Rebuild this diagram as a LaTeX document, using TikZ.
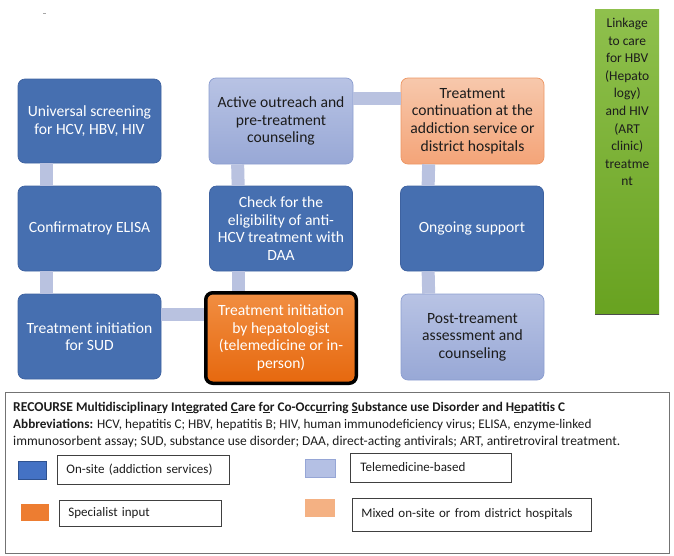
\documentclass[tikz,border=0pt]{standalone}
\usepackage{fontspec}
\setmainfont{Carlito}
\usetikzlibrary{calc}

\definecolor{dblue}{RGB}{70,111,176}
\definecolor{dblueb}{RGB}{62,98,160}
\definecolor{lavtop}{RGB}{184,195,228}
\definecolor{lavbot}{RGB}{152,168,214}
\definecolor{lavb}{RGB}{140,158,208}
\definecolor{ortop}{RGB}{241,142,66}
\definecolor{orbot}{RGB}{230,104,14}
\definecolor{pchtop}{RGB}{247,200,172}
\definecolor{pchbot}{RGB}{244,164,120}
\definecolor{pchb}{RGB}{236,150,100}
\definecolor{grtop}{RGB}{143,192,77}
\definecolor{grbot}{RGB}{104,162,32}
\definecolor{conncol}{RGB}{185,194,224}
\definecolor{txtdark}{RGB}{28,28,28}
\definecolor{legsq1}{RGB}{68,114,196}
\definecolor{legsq1b}{RGB}{47,82,143}
\definecolor{legsq2}{RGB}{237,125,49}
\definecolor{legsq3}{RGB}{180,192,228}
\definecolor{legsq3b}{RGB}{150,166,214}
\definecolor{legsq4}{RGB}{244,177,131}

\begin{document}
\begin{tikzpicture}[x=1pt,y=-1pt,
  box/.style={rounded corners=7pt, minimum width=143pt, minimum height=85pt,
    inner sep=1pt, align=center, font=\fontsize{15.6}{17.6}\selectfont},
  onsite/.style={box, fill=dblue, draw=dblueb, line width=0.7pt, text=white},
  telemed/.style={box, top color=lavtop, bottom color=lavbot, draw=lavb, line width=0.7pt, text=txtdark},
  mixed/.style={box, top color=pchtop, bottom color=pchbot, draw=pchb, line width=0.7pt, text=txtdark},
  special/.style={box, top color=ortop, bottom color=orbot, draw=black, line width=3.5pt, text=white,
    minimum width=150.5pt, minimum height=90.5pt},
  conn/.style={draw=conncol, line width=13pt},
  legtext/.style={font=\fontsize{13.2}{15}\selectfont, anchor=base west, inner sep=0pt, text=txtdark},
  legbox/.style={draw=black!75, line width=0.8pt, align=left, font=\fontsize{13}{15}\selectfont,
    inner ysep=0pt, text=txtdark},
  legsq/.style={inner sep=0pt, line width=0.8pt}
]
\useasboundingbox (0,0) rectangle (674,555);

% tiny mark
\draw[gray!70, line width=0.5pt] (43,13) -- (45.5,13);

% boxes
\node[onsite, minimum height=84pt] (u1) at (89.5,121) {Universal screening\\for HCV, HBV, HIV};
\node[telemed, minimum width=144pt, minimum height=86pt] (u2) at (281,121) {Active outreach and\\pre-treatment\\counseling};
\node[mixed, minimum height=86pt] (u3) at (472.5,121) {Treatment\\continuation at the\\addiction service or\\district hospitals};

\node[onsite] (c1) at (89.5,228.5) {Confirmatroy ELISA};
\node[onsite, minimum width=143pt] (c2) at (281,228.5) {Check for the\\eligibility of anti-\\HCV treatment with\\DAA};
\node[onsite] (c3) at (472,228.5) {Ongoing support};

\node[onsite] (s1) at (89.5,336.5) {Treatment initiation\\for SUD};
\node[special] (s2) at (281,338) {Treatment initiation\\by hepatologist\\(telemedicine or in-\\person)};
\node[telemed, minimum height=86pt] (s3) at (472.5,337) {Post-treament\\assessment and\\counseling};

% green box
\node[minimum width=64pt, minimum height=305pt, top color=grtop, bottom color=grbot,
  inner sep=0pt, anchor=north west] (g) at (595,9) {};
\draw[black!70, line width=1.2pt] (g.south west) -- (g.south east);
\node[align=center, text=txtdark, font=\fontsize{13.5}{17.6}\selectfont, anchor=north, inner sep=0pt]
  (gt) at ([yshift=-9pt]g.north) {Linkage\\to care\\for HBV\\(Hepato\\logy)\\and HIV\\(ART\\clinic)\\treatme\\nt};

% connectors
\draw[conn] ([xshift=29pt]u1.south west) -- ([xshift=29pt]c1.north west);
\draw[conn] ([xshift=29pt]c1.south west) -- ([xshift=29pt]s1.north west);
\draw[conn] ([xshift=29pt]u2.south west) -- ([xshift=29pt]c2.north west);
\draw[conn] ([xshift=29pt]c2.south west) -- ([xshift=29pt]c2.south west |- s2.north);
\draw[conn] ([xshift=28pt]u3.south west) -- ([xshift=28pt]c3.north west);
\draw[conn] ([xshift=28pt]c3.south west) -- ([xshift=28pt]s3.north west);
\draw[conn] ([yshift=-21pt]u2.north east) -- ([yshift=-21pt]u3.north west);
\draw[conn] ([yshift=-21pt]s1.north east) -- ([yshift=-21pt]s1.north east -| s2.west);

% legend frame
\node[draw=black!55, line width=0.9pt, minimum width=664pt, minimum height=161pt, anchor=north west, inner sep=0pt] (leg) at (5,392) {};

\node[legtext] (t1) at (13,411) {\textbf{\fontsize{13.6}{15}\selectfont RECOURSE} \textbf{\fontsize{13.2}{15}\selectfont Multidisciplina\underline{r}y Int\underline{e}grated \underline{C}are f\underline{o}r Co-Occ\underline{ur}ring \underline{S}ubstance use Disorder and H\underline{e}patitis C}};
\node[legtext] (t2) at (13,428) {\textbf{Abbreviations:} HCV, hepatitis C; HBV, hepatitis B; HIV, human immunodeficiency virus; ELISA, enzyme-linked};
\node[legtext, font=\fontsize{13.5}{15}\selectfont] (t3) at (13,445.5) {immunosorbent assay; SUD, substance use disorder; DAA, direct-acting antivirals; ART, antiretroviral treatment.};

% legend items
\node[legsq, fill=legsq1, draw=legsq1b, minimum width=28pt, minimum height=18pt] (q1) at (32,470) {};
\node[legbox, minimum width=172pt, minimum height=29pt, inner xsep=9pt, text width=154pt, anchor=north west] (l1) at (57,455) {On-site (addiction services)};

\node[legsq, fill=legsq2, minimum width=28pt, minimum height=17pt] (q2) at (34.5,512.5) {};
\node[legbox, minimum width=162pt, minimum height=26pt, inner xsep=9pt, text width=144pt, anchor=north west] (l2) at (59,500) {Specialist input};

\node[legsq, fill=legsq3, draw=legsq3b, minimum width=30pt, minimum height=18pt] (q3) at (320,468) {};
\node[legbox, minimum width=161pt, minimum height=29pt, inner xsep=10pt, text width=141pt, anchor=north west] (l3) at (350,453) {\raisebox{1.5pt}{Telemedicine-based}};

\node[legsq, fill=legsq4, minimum width=30pt, minimum height=18pt] (q4) at (320,508) {};
\node[legbox, minimum width=239pt, minimum height=33pt, inner xsep=9pt, text width=221pt, anchor=north west] (l4) at (352,498) {\raisebox{3pt}{Mixed on-site or from district hospitals}};
\end{tikzpicture}
\end{document}
